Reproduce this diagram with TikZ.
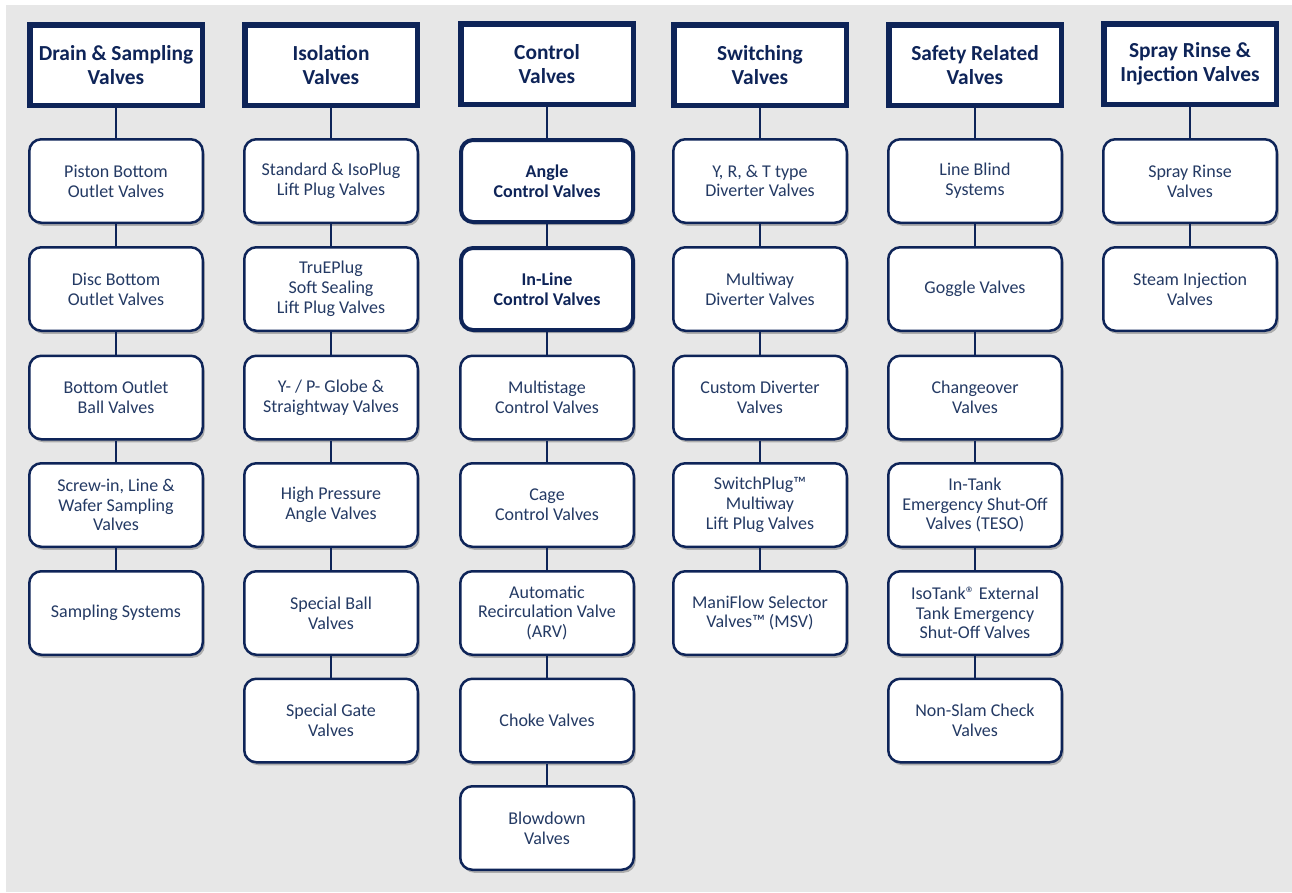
\documentclass[tikz,border=0pt]{standalone}
\usepackage{fontspec}
\setmainfont{Carlito}
\usetikzlibrary{shadows}
\definecolor{navy}{RGB}{14,36,88}
\definecolor{txt}{RGB}{36,58,100}
\definecolor{bg}{RGB}{231,231,231}
\tikzset{
  hdr/.style={draw=navy, line width=5.5pt, fill=white, minimum width=172.5pt, minimum height=80.5pt, inner sep=0pt,
    align=center, text=navy, font=\fontsize{21.4}{24}\selectfont\bfseries,
    drop shadow={shadow xshift=2pt, shadow yshift=-3pt, opacity=0.25, fill=black}},
  itm/.style={draw=navy, line width=2.5pt, fill=white, rounded corners=12pt, minimum width=173.5pt, minimum height=83.5pt,
    inner sep=0pt, align=center, text=txt, font=\fontsize{18}{19.8}\selectfont,
    drop shadow={shadow xshift=2pt, shadow yshift=-3pt, opacity=0.25, fill=black}},
  itmb/.style={itm, line width=4pt, minimum width=172pt, minimum height=82pt, text=navy, font=\fontsize{18}{19.8}\selectfont\bfseries},
  conn/.style={draw=navy, line width=2.5pt}
}
\begin{document}
\begin{tikzpicture}[x=1pt,y=1pt]
\useasboundingbox (0,0) rectangle (1292,-892);
\fill[bg] (6,-5) rectangle (1292,-892);
% headers
\node[hdr] (h1) at (116,-65) {Drain \& Sampling\\Valves};
\node[hdr] (h2) at (331,-65) {Isolation\\Valves};
\node[hdr] (h3) at (547,-64) {Control\\Valves};
\node[hdr] (h4) at (760,-65) {Switching\\Valves};
\node[hdr] (h5) at (975,-65) {Safety Related\\Valves};
\node[hdr] (h6) at (1190,-64) {Spray Rinse \&\\Injection Valves};
% column 1
\node[itm] (a1) at (116,-181) {Piston Bottom\\Outlet Valves};
\node[itm] (a2) at (116,-289) {Disc Bottom\\Outlet Valves};
\node[itm] (a3) at (116,-397.5) {Bottom Outlet\\Ball Valves};
\node[itm] (a4) at (116,-505) {Screw-in, Line \&\\Wafer Sampling\\Valves};
\node[itm] (a5) at (116,-613) {Sampling Systems};
% column 2
\node[itm] (b1) at (331,-181) {Standard \& IsoPlug\\Lift Plug Valves};
\node[itm] (b2) at (331,-289) {TruEPlug\\Soft Sealing\\Lift Plug Valves};
\node[itm] (b3) at (331,-397.5) {Y- / P- Globe \&\\Straightway Valves};
\node[itm] (b4) at (331,-505) {High Pressure\\Angle Valves};
\node[itm] (b5) at (331,-613) {Special Ball\\Valves};
\node[itm] (b6) at (331,-720.5) {Special Gate\\Valves};
% column 3
\node[itmb] (c1) at (547,-181) {Angle\\Control Valves};
\node[itmb] (c2) at (547,-289) {In-Line\\Control Valves};
\node[itm] (c3) at (547,-397.5) {Multistage\\Control Valves};
\node[itm] (c4) at (547,-505) {Cage\\Control Valves};
\node[itm] (c5) at (547,-613) {Automatic\\Recirculation Valve\\(ARV)};
\node[itm] (c6) at (547,-720.5) {Choke Valves};
\node[itm] (c7) at (547,-828) {Blowdown\\Valves};
% column 4
\node[itm] (d1) at (760,-181) {Y, R, \& T type\\Diverter Valves};
\node[itm] (d2) at (760,-289) {Multiway\\Diverter Valves};
\node[itm] (d3) at (760,-397.5) {Custom Diverter\\Valves};
\node[itm] (d4) at (760,-505) {SwitchPlug™\\Multiway\\Lift Plug Valves};
\node[itm] (d5) at (760,-613) {ManiFlow Selector\\Valves™ (MSV)};
% column 5
\node[itm] (e1) at (975,-181) {Line Blind\\Systems};
\node[itm] (e2) at (975,-289) {Goggle Valves};
\node[itm] (e3) at (975,-397.5) {Changeover\\Valves};
\node[itm] (e4) at (975,-505) {In-Tank\\Emergency Shut-Off\\Valves (TESO)};
\node[itm] (e5) at (975,-613) {IsoTank® External\\Tank Emergency\\Shut-Off Valves};
\node[itm] (e6) at (975,-720.5) {Non-Slam Check\\Valves};
% column 6
\node[itm] (f1) at (1190,-181) {Spray Rinse\\Valves};
\node[itm] (f2) at (1190,-289) {Steam Injection\\Valves};
% connectors
\path[conn] (h1) -- (a1) (a1) -- (a2) (a2) -- (a3) (a3) -- (a4) (a4) -- (a5);
\path[conn] (h2) -- (b1) (b1) -- (b2) (b2) -- (b3) (b3) -- (b4) (b4) -- (b5) (b5) -- (b6);
\path[conn] (h3) -- (c1) (c1) -- (c2) (c2) -- (c3) (c3) -- (c4) (c4) -- (c5) (c5) -- (c6) (c6) -- (c7);
\path[conn] (h4) -- (d1) (d1) -- (d2) (d2) -- (d3) (d3) -- (d4) (d4) -- (d5);
\path[conn] (h5) -- (e1) (e1) -- (e2) (e2) -- (e3) (e3) -- (e4) (e4) -- (e5) (e5) -- (e6);
\path[conn] (h6) -- (f1) (f1) -- (f2);
\end{tikzpicture}
\end{document}
